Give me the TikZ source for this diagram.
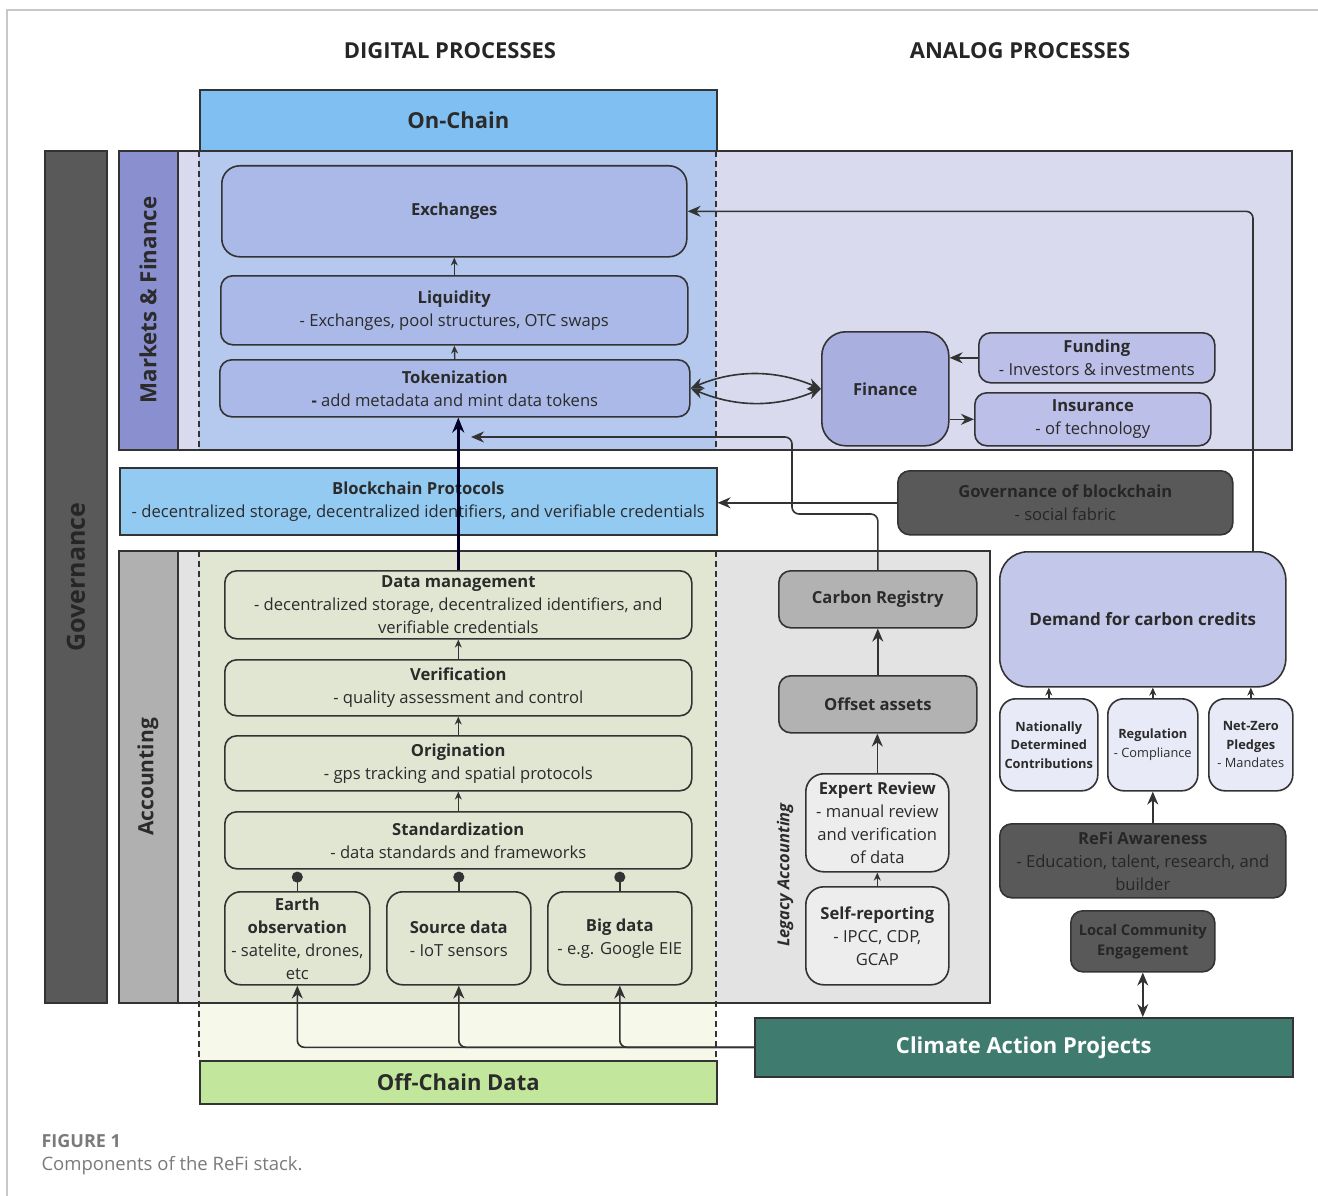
\documentclass[tikz,border=0pt]{standalone}
\usepackage{fontspec}
\setmainfont{Open Sans}
\usepackage{xcolor}
\usetikzlibrary{arrows.meta,positioning,backgrounds}

\definecolor{linec}{HTML}{333333}
\definecolor{txt}{HTML}{2B2B2B}
\definecolor{darktxt}{HTML}{262626}
\definecolor{onchainc}{HTML}{80BFF2}
\definecolor{marketc}{HTML}{D9DAEE}
\definecolor{marketstrip}{HTML}{8A8FCF}
\definecolor{digmarket}{HTML}{B5C9EF}
\definecolor{tokc}{HTML}{AAB9E7}
\definecolor{finc}{HTML}{A9B0E0}
\definecolor{fundc}{HTML}{BCBFE8}
\definecolor{protoc}{HTML}{93CAF2}
\definecolor{govc}{HTML}{595959}
\definecolor{accc}{HTML}{E3E3E3}
\definecolor{accstrip}{HTML}{B0B0B0}
\definecolor{digacc}{HTML}{E1E6D3}
\definecolor{regc}{HTML}{B2B2B2}
\definecolor{legc}{HTML}{EDEDED}
\definecolor{demc}{HTML}{C3C8EA}
\definecolor{pledgec}{HTML}{E9EAF7}
\definecolor{palec}{HTML}{F6F8E9}
\definecolor{offc}{HTML}{C3E69D}
\definecolor{capc}{HTML}{3F7B6F}
\definecolor{framec}{HTML}{C8C8C8}
\definecolor{capt}{HTML}{7A7A7A}

\newcommand{\bodyfont}{\fontsize{16.6}{23}\selectfont}
\newcommand{\bigfont}{\bfseries\fontsize{22}{26}\selectfont}

\tikzset{
  box/.style={draw=linec, line width=1.6pt, rounded corners=12, align=center,
    inner sep=0pt, anchor=north west, font=\bodyfont, text=txt},
  flat/.style={box, rounded corners=0},
  pledge/.style={box, fill=pledgec, rounded corners=16, minimum height=92,
    font=\fontsize{12.8}{18.5}\selectfont},
  arr/.style={draw=linec, line width=1.6pt, -{Stealth[length=13pt,width=11pt]}},
  twoarr/.style={draw=linec, line width=1.6pt, {Stealth[length=13pt,width=11pt]}-{Stealth[length=13pt,width=11pt]}},
  sarr/.style={draw=linec, line width=1.4pt, -{Stealth[length=8pt,width=7pt]}},
  dotarr/.style={draw=linec, line width=1.6pt, -{Circle[length=11pt]}, shorten >=2pt},
  sidelabel/.style={rotate=90, font=\bfseries\fontsize{21}{24}\selectfont, text=txt},
  region/.style={line width=1.6pt, draw=linec},
  cut/.style={draw=linec, line width=1.4pt, dash pattern=on 6pt off 4pt}
}

\begin{document}
\begin{tikzpicture}[x=1pt,y=-1pt]
\useasboundingbox (0,0) rectangle (1318,1196);
\draw[framec, line width=1.5pt] (7,1196) -- (7,10) -- (1318,10);

%headings
\node[font=\bigfont, text=darktxt] (dig) at (450,51) {DIGITAL PROCESSES};
\node[font=\bigfont, text=darktxt] (ana) at (1020,51) {ANALOG PROCESSES};

%backgrounds
\fill[govc] (45,151) rectangle (107,1003);
\fill[marketc] (119,151) rectangle (1292,450);
\fill[marketstrip] (119,151) rectangle (178,450);
\fill[digmarket] (199,151) rectangle (716,450);
\fill[accc] (119,551) rectangle (990,1003);
\fill[accstrip] (119,551) rectangle (178,1003);
\fill[digacc] (199,551) rectangle (716,1003);
\fill[palec] (199,1003) rectangle (716,1060);
\draw[region] (45,151) rectangle (107,1003);
\draw[region] (119,151) rectangle (1292,450);
\draw[region] (178,151) -- (178,450);
\draw[region] (119,551) rectangle (990,1003);
\draw[region] (178,551) -- (178,1003);
\draw[cut] (199,151) -- (199,450) (716,151) -- (716,450);
\draw[cut] (199,551) -- (199,1060) (716,551) -- (716,1060);

\node[sidelabel, text=darktxt, font=\bfseries\fontsize{25}{28}\selectfont] (govlab) at (76,577) {Governance};
\node[sidelabel, font=\bfseries\fontsize{22.3}{26}\selectfont] (mflab) at (148,300) {Markets \& Finance};
\node[sidelabel] (acclab) at (148,777) {Accounting};
\node[sidelabel, font=\bfseries\itshape\fontsize{16.5}{20}\selectfont] (leglab) at (785,875) {Legacy Accounting};

%on-chain side
\node[flat, minimum width=517, minimum height=61, fill=onchainc, font=\bigfont] (onchain) at (199,89) {On-Chain};
\node[box, minimum width=465, minimum height=91, fill=tokc, rounded corners=18] (exch) at (221,165) {\textbf{Exchanges}};
\node[box, minimum width=467, minimum height=69, fill=tokc] (liq) at (220,275) {\textbf{Liquidity}\\- Exchanges, pool structures, OTC swaps};
\node[box, minimum width=470, minimum height=57, fill=tokc] (tok) at (219,359) {\textbf{Tokenization}\\\textbf{-} add metadata and mint data tokens};
\node[flat, minimum width=597, minimum height=67, fill=protoc] (proto) at (119,467) {\textbf{Blockchain Protocols}\\- decentralized storage, decentralized identifiers, and verifiable credentials};

%finance
\node[box, minimum width=127, minimum height=114, fill=finc, rounded corners=24] (fin) at (821,331) {\textbf{Finance}};
\node[box, minimum width=236, minimum height=50, fill=fundc] (fund) at (978,332) {\textbf{Funding}\\- Investors \& investments};
\node[box, minimum width=236, minimum height=53, fill=fundc] (ins) at (974,392) {\textbf{Insurance}\\- of technology};
\node[box, minimum width=335, minimum height=64, fill=govc, text=darktxt] (gob) at (897,470) {\textbf{Governance of blockchain}\\- social fabric};

%accounting stack
\node[box, minimum width=467, minimum height=68, fill=digacc] (dm) at (224,570) {\textbf{Data management}\\- decentralized storage, decentralized identifiers, and\\verifiable credentials};
\node[box, minimum width=467, minimum height=56, fill=digacc] (ver) at (224,659) {\textbf{Verification}\\- quality assessment and control};
\node[box, minimum width=467, minimum height=55, fill=digacc] (ori) at (224,735) {\textbf{Origination}\\- gps tracking and spatial protocols};
\node[box, minimum width=467, minimum height=57, fill=digacc] (std) at (224,811) {\textbf{Standardization}\\- data standards and frameworks};
\node[box, minimum width=145, minimum height=93, fill=digacc, rounded corners=16] (earth) at (224,891) {\textbf{Earth}\\\textbf{observation}\\- satelite, drones,\\etc};
\node[box, minimum width=144, minimum height=93, fill=digacc, rounded corners=16] (src) at (386,891) {\textbf{Source data}\\- IoT sensors};
\node[box, minimum width=144, minimum height=93, fill=digacc, rounded corners=16] (big) at (547,891) {\textbf{Big data}\\- e.g. Google EIE};
\node[flat, minimum width=517, minimum height=43, fill=offc, font=\bigfont] (offchain) at (199,1060) {Off-Chain Data};

%legacy accounting
\node[box, minimum width=198, minimum height=57, fill=regc] (reg) at (778,570) {\textbf{Carbon Registry}};
\node[box, minimum width=198, minimum height=57, fill=regc] (off) at (778,675) {\textbf{Offset assets}};
\node[box, minimum width=143, minimum height=98, fill=legc, rounded corners=18] (exp) at (805,773) {\textbf{Expert Review}\\- manual review\\and verification\\of data};
\node[box, minimum width=143, minimum height=98, fill=legc, rounded corners=18] (self) at (805,886) {\textbf{Self-reporting}\\- IPCC, CDP,\\GCAP};

%demand side
\node[pledge, minimum width=98] (ndc) at (999,698) {\textbf{Nationally}\\\textbf{Determined}\\\textbf{Contributions}};
\node[pledge, minimum width=90] (regu) at (1107,698) {\textbf{Regulation}\\- Compliance};
\node[pledge, minimum width=84] (nz) at (1208,698) {\textbf{Net-Zero}\\\textbf{Pledges}\\- Mandates};
\node[box, minimum width=286, minimum height=135, fill=demc, rounded corners=28, font=\bfseries\fontsize{17}{22}\selectfont] (dem) at (999,551) {Demand for carbon credits};
\node[box, minimum width=286, minimum height=74, fill=govc, text=darktxt] (refi) at (999,823) {\textbf{ReFi Awareness}\\- Education, talent, research, and\\builder};
\node[box, minimum width=144, minimum height=61, fill=govc, text=darktxt, font=\bfseries\fontsize{14.7}{20}\selectfont] (loc) at (1070,910) {Local Community\\Engagement};
\node[flat, minimum width=538, minimum height=59, fill=capc, text=white, font=\bigfont] (cap) at (754,1017) {Climate Action Projects};

%caption
\node[anchor=west, text=capt, font=\bfseries\fontsize{18}{21}\selectfont] (fig) at (38,1141) {FIGURE 1};
\node[anchor=west, text=capt, font=\fontsize{18.5}{21}\selectfont] (figtxt) at (38,1166) {Components of the ReFi stack.};

\coordinate (tokin) at (471,437);
\coordinate (dtop) at (1253,551);

%arrows
\draw[sarr] (liq.north) -- (exch.south);
\draw[sarr] (tok.north) -- (liq.south);
\draw[draw=black!85!blue, line width=2.6pt, -{Stealth[length=15pt,width=12pt]}] (dm.north) -- (dm.north |- tok.south);
\draw[sarr] (ver.north) -- (dm.south -| ver.north);
\draw[sarr] (ori.north) -- (ver.south -| ori.north);
\draw[sarr] (std.north) -- (ori.south -| std.north);
\foreach \n in {earth,src,big}
  \draw[dotarr] (\n.north) -- (\n.north |- std.south);
\begin{scope}[rounded corners=7]
\foreach \n in {earth,src,big}
  \draw[arr] (cap.west) -| (\n.south);
\draw[arr] (reg.north) -- ++(0,-56) -| (792,437) -- (tokin);
\draw[arr] (dtop) |- (exch.east);
\end{scope}
\draw[arr] (gob.west) -- (gob.west -| proto.east);
\draw[arr] (fund.west) -- (fund.west -| fin.east);
\draw[arr] (fin.east |- ins.west) -- (ins.west);
\draw[twoarr] (tok.east) .. controls +(45,-19) and +(-45,-19) .. (fin.west);
\draw[twoarr] (tok.east) .. controls +(45,19) and +(-45,19) .. (fin.west);
\draw[arr] (off.north) -- (reg.south);
\draw[arr] (exp.north) -- (off.south -| exp.north);
\draw[sarr] (self.north) -- (exp.south);
\foreach \n in {ndc,regu,nz}
  \draw[sarr] (\n.north) -- (\n.north |- dem.south);
\draw[arr] (regu.south |- refi.north) -- (regu.south);
\draw[twoarr] (loc.south) -- (loc.south |- cap.north);
\end{tikzpicture}
\end{document}
